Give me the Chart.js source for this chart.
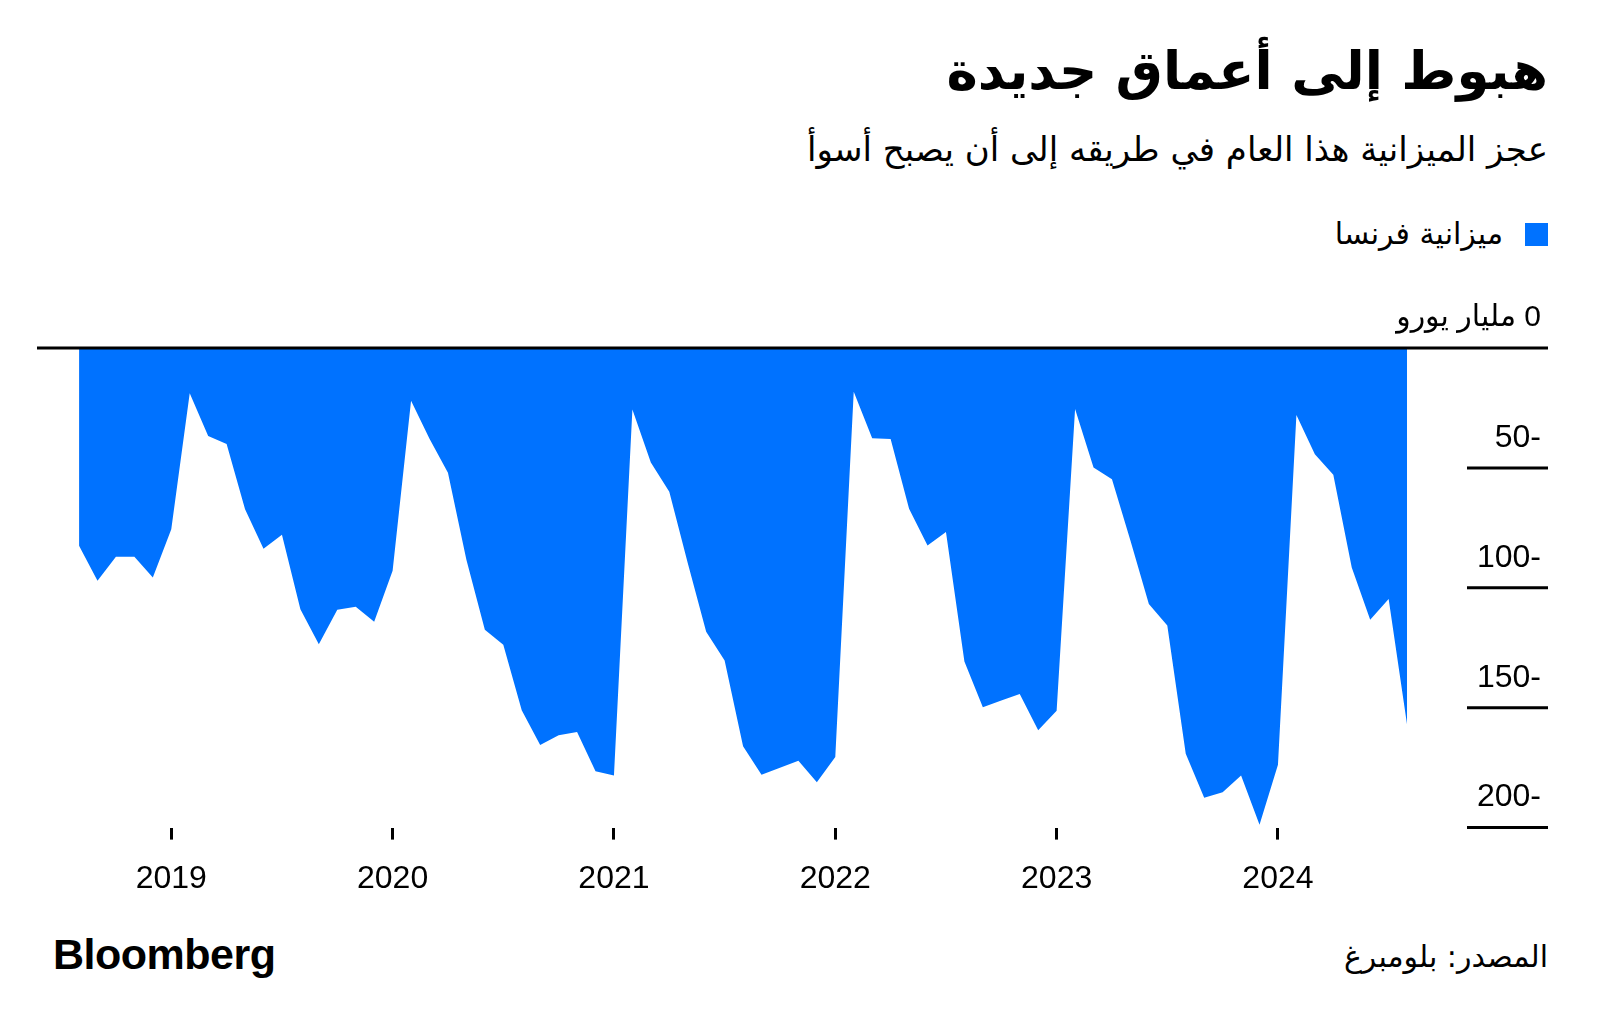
<!DOCTYPE html>
<html lang="ar">
<head>
    <meta charset="UTF-8">
    <title>هبوط إلى أعماق جديدة</title>
    <script src="https://cdn.jsdelivr.net/npm/chart.js"></script>
    <style>
        body { margin: 0; background: #fff; }
        .page { position: relative; width: 1600px; height: 1031px; overflow: hidden; background: #fff; color: #000; }
        .rtl { position: absolute; right: 52px; direction: rtl; white-space: nowrap; font-family: "DejaVu Sans", sans-serif; }
        .title { top: 33px; font-size: 53px; line-height: 76px; font-weight: bold; }
        .subtitle { top: 124px; font-size: 34px; line-height: 50px; }
        .legend { top: 214px; font-size: 30px; line-height: 40px; display: flex; align-items: center; }
        .legend .box { width: 23px; height: 23px; background: #0072ff; margin-left: 22px; }
        .source { top: 937px; font-size: 30px; line-height: 40px; }
        .logo { position: absolute; left: 53px; top: 929px; font: bold 43px/50px "Liberation Sans", Arial, sans-serif; letter-spacing: -0.5px; }
        .chart-box { position: absolute; left: 0; top: 280px; width: 1600px; height: 648px; }
    </style>
</head>
<body>
<div class="page">
    <div class="rtl title">هبوط إلى أعماق جديدة</div>
    <div class="rtl subtitle">عجز الميزانية هذا العام في طريقه إلى أن يصبح أسوأ</div>
    <div class="rtl legend"><span class="box"></span><span>ميزانية فرنسا</span></div>
    <div class="chart-box"><canvas id="budgetChart" width="1600" height="648"></canvas></div>
    <div class="logo">Bloomberg</div>
    <div class="rtl source">المصدر: بلومبرغ</div>
</div>

<script>
// الأشهر (نهاية كل شهر)
const months = [
    'Jul 2018', 'Aug 2018', 'Sep 2018', 'Oct 2018', 'Nov 2018', 'Dec 2018',
    'Jan 2019', 'Feb 2019', 'Mar 2019', 'Apr 2019', 'May 2019', 'Jun 2019', 'Jul 2019', 'Aug 2019', 'Sep 2019', 'Oct 2019', 'Nov 2019', 'Dec 2019',
    'Jan 2020', 'Feb 2020', 'Mar 2020', 'Apr 2020', 'May 2020', 'Jun 2020', 'Jul 2020', 'Aug 2020', 'Sep 2020', 'Oct 2020', 'Nov 2020', 'Dec 2020',
    'Jan 2021', 'Feb 2021', 'Mar 2021', 'Apr 2021', 'May 2021', 'Jun 2021', 'Jul 2021', 'Aug 2021', 'Sep 2021', 'Oct 2021', 'Nov 2021', 'Dec 2021',
    'Jan 2022', 'Feb 2022', 'Mar 2022', 'Apr 2022', 'May 2022', 'Jun 2022', 'Jul 2022', 'Aug 2022', 'Sep 2022', 'Oct 2022', 'Nov 2022', 'Dec 2022',
    'Jan 2023', 'Feb 2023', 'Mar 2023', 'Apr 2023', 'May 2023', 'Jun 2023', 'Jul 2023', 'Aug 2023', 'Sep 2023', 'Oct 2023', 'Nov 2023', 'Dec 2023',
    'Jan 2024', 'Feb 2024', 'Mar 2024', 'Apr 2024', 'May 2024', 'Jun 2024', 'Jul 2024'
];

// رصيد الميزانية التراكمي، مليار يورو
const budget = [
    -82.5, -97.1, -87.1, -87.1, -95.7, -75.6,
    -18.9, -36.7, -40.0, -67.2, -83.7, -77.9, -108.9, -123.5, -109.2, -107.9, -114.2, -92.9,
    -22.0, -37.8, -52.0, -88.3, -117.5, -123.8, -151.1, -165.6, -161.5, -160.1, -176.5, -178.3,
    -25.6, -47.7, -59.9, -89.7, -118.3, -130.3, -166.1, -178.0, -175.0, -172.1, -181.1, -170.6,
    -18.2, -37.6, -37.9, -67.0, -82.4, -76.7, -130.7, -149.8, -147.0, -144.3, -159.4, -151.3,
    -25.4, -49.8, -54.7, -80.3, -106.8, -115.7, -169.2, -187.6, -185.3, -178.3, -198.8, -173.8,
    -27.9, -44.3, -52.9, -91.5, -113.3, -104.7, -157.1
];

const yearLabels = ['2019', '2020', '2021', '2022', '2023', '2024'];
const yTicks = [0, -50, -100, -150, -200];
const yTickLabels = ['0 مليار يورو', '50-', '100-', '150-', '200-'];

// علامات السنوات عند نهاية ديسمبر من السنة السابقة
const yearTickIdx = months.map((m, i) => m.startsWith('Dec') ? i : -1).filter(i => i >= 0);

const yLabelsPlugin = {
    id: 'yLabels',
    afterDatasetsDraw(chart) {
        const { ctx, chartArea, scales: { y } } = chart;
        ctx.save();
        ctx.fillStyle = '#000';
        ctx.strokeStyle = '#000';
        ctx.lineWidth = 3;
        ctx.textAlign = 'right';
        ctx.textBaseline = 'middle';
        yTicks.forEach((v, i) => {
            const py = y.getPixelForValue(v);
            ctx.beginPath();
            ctx.moveTo(v === 0 ? chartArea.left : chartArea.right - 81, py);
            ctx.lineTo(chartArea.right, py);
            ctx.stroke();
            if (v === 0) {
                ctx.direction = 'rtl';
                ctx.font = '30px "Liberation Sans", "DejaVu Sans", sans-serif';
            } else {
                ctx.direction = 'ltr';
                ctx.font = '32px "Liberation Sans", Arial, sans-serif';
            }
            ctx.fillText(yTickLabels[i], chartArea.right - 7, py - 30);
        });
        ctx.restore();
    }
};

new Chart(document.getElementById('budgetChart'), {
    type: 'line',
    data: {
        datasets: [{
            label: 'ميزانية فرنسا',
            data: budget.map((v, i) => ({ x: i, y: v })),
            backgroundColor: '#0072ff',
            borderWidth: 0,
            pointRadius: 0,
            tension: 0,
            fill: 'origin'
        }]
    },
    options: {
        responsive: false,
        animation: false,
        layout: { padding: { top: 68, left: 37, right: 52, bottom: 10 } },
        plugins: { legend: { display: false }, tooltip: { enabled: false } },
        scales: {
            x: {
                type: 'linear',
                min: -2.28,
                max: 79.64,
                afterBuildTicks: axis => { axis.ticks = yearTickIdx.map(v => ({ value: v })); },
                ticks: {
                    autoSkip: false,
                    maxRotation: 0,
                    padding: 20,
                    color: '#000',
                    font: { family: '"Liberation Sans", Arial, sans-serif', size: 32 },
                    callback: (value) => yearLabels[yearTickIdx.indexOf(value)]
                },
                grid: { drawOnChartArea: false, drawTicks: true, tickLength: 12, tickWidth: 3, tickColor: '#000' },
                border: { display: false }
            },
            y: {
                display: false,
                min: -200,
                max: 0
            }
        }
    },
    plugins: [yLabelsPlugin]
});
</script>
</body>
</html>
